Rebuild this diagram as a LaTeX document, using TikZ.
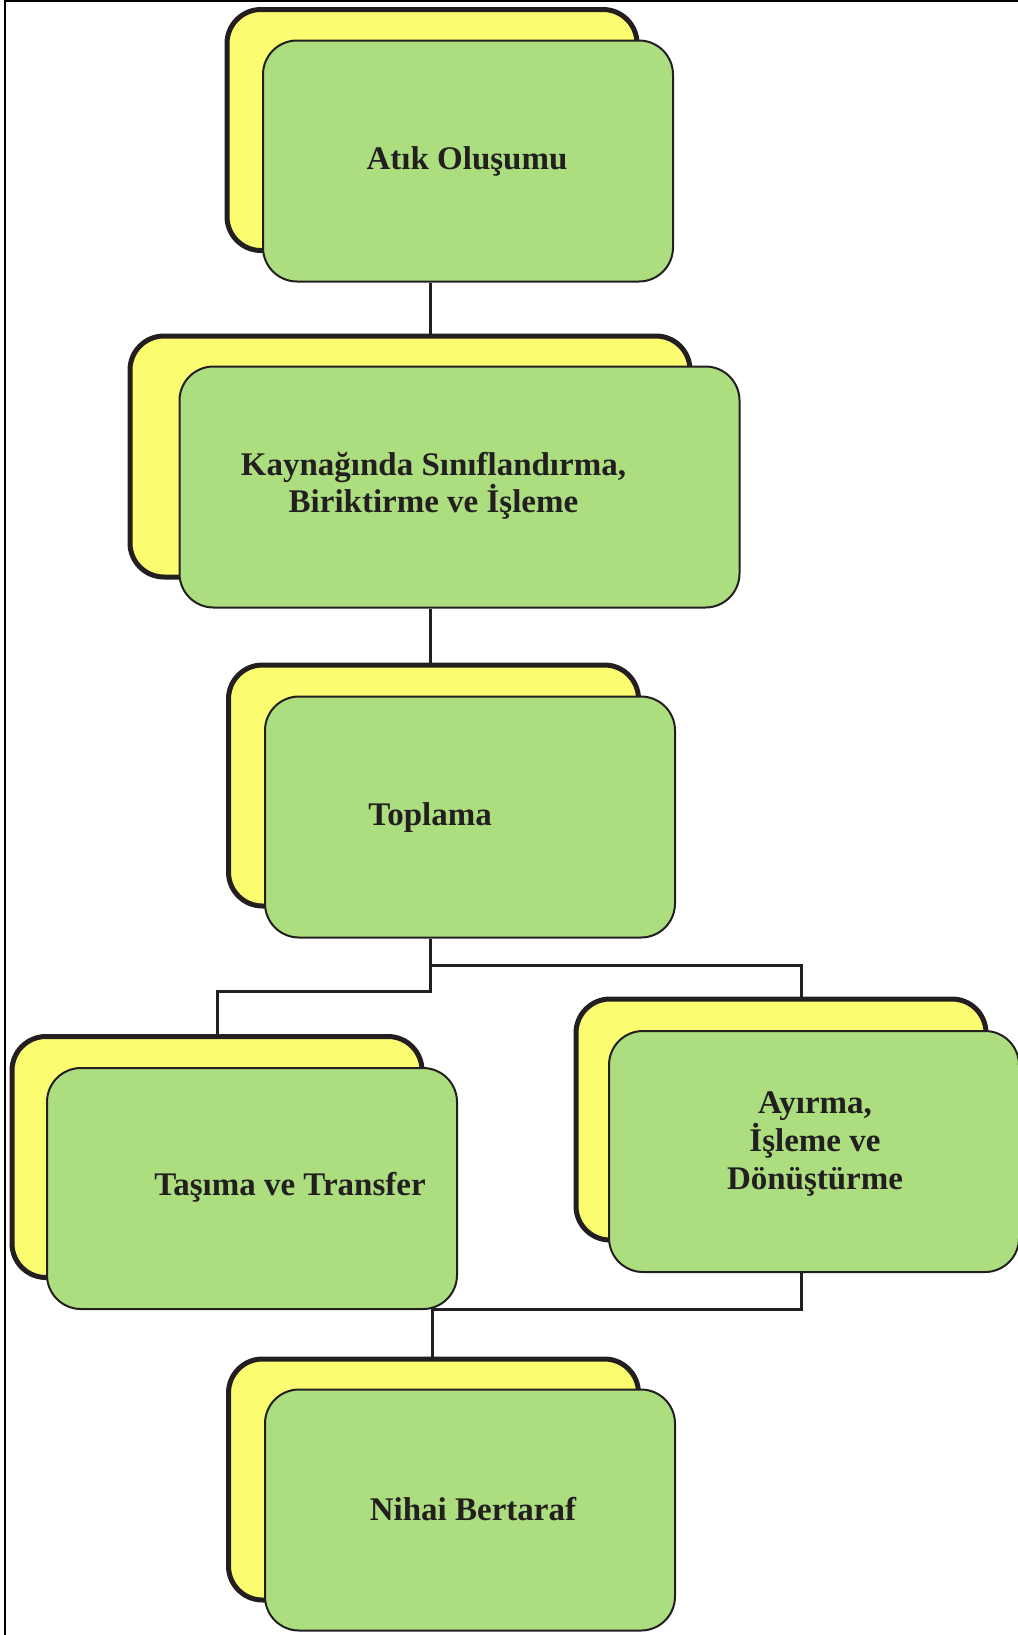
\documentclass[tikz,border=0pt]{standalone}
\usepackage{fontspec}
\setmainfont{Liberation Serif}
\usetikzlibrary{positioning}

\definecolor{ink}{RGB}{35,31,32}
\definecolor{backyellow}{RGB}{252,252,112}
\definecolor{frontgreen}{RGB}{172,222,128}

\begin{document}
\begin{tikzpicture}[x=0.5pt, y=-0.5pt, font=\fontsize{16.5}{18.5}\selectfont\bfseries]
  \tikzset{
    back/.style={
      rectangle,
      rounded corners=17pt,
      draw=ink,
      line width=2.5pt,
      fill=backyellow,
      minimum width=205pt,
      minimum height=120.5pt},
    front/.style={
      rectangle,
      rounded corners=17pt,
      draw=ink,
      line width=1pt,
      fill=frontgreen,
      minimum width=205pt,
      minimum height=120.5pt},
    caption/.style={
      text=ink,
      align=center},
    link/.style={
      draw=ink,
      line width=1.5pt}}

  \useasboundingbox (0,0) rectangle (1018,1635);
  \draw[black, line width=1.3pt] (1018,1) -- (5,1) -- (5,1635);

  \node[back] (back1) at (432,130) {};
  \node[front] (box1) at ([shift={(36,31)}]back1.center) {};
  \node[caption] (txt1) at ([shift={(-1,0)}]box1.center) {Atık Oluşumu};

  \node[back, minimum width=280pt] (back2) at (410,456.5) {};
  \node[front, minimum width=280pt] (box2) at ([shift={(49.5,30.5)}]back2.center) {};
  \node[caption] (txt2) at ([shift={(-26,-1)}]box2.center) {Kaynağında Sınıflandırma,\\Biriktirme ve İşleme};

  \node[back] (back3) at (433.5,785.5) {};
  \node[front] (box3) at ([shift={(36.5,31.5)}]back3.center) {};
  \node[caption] (txt3) at ([shift={(-40,0.5)}]box3.center) {Toplama};

  \node[back] (back4) at (217,1157) {};
  \node[front] (box4) at ([shift={(35,31.5)}]back4.center) {};
  \node[caption] (txt4) at ([shift={(38,-1.5)}]box4.center) {Taşıma ve Transfer};

  \node[back] (back5) at (781,1119.5) {};
  \node[front] (box5) at ([shift={(33,32)}]back5.center) {};
  \node[caption, font=\fontsize{16.5}{19}\selectfont\bfseries] (txt5) at ([shift={(1,-8)}]box5.center) {Ayırma,\\İşleme ve\\Dönüştürme};

  \node[back] (back6) at (433.5,1479.5) {};
  \node[front] (box6) at ([shift={(36.5,30.5)}]back6.center) {};
  \node[caption] (txt6) at ([shift={(3,-1)}]box6.center) {Nihai Bertaraf};

  % junctions of the connector tree
  \coordinate (spine) at (430,0);
  \coordinate (split) at (430,991);
  \coordinate (fork) at (430,965);
  \coordinate (rail) at (801,0);
  \coordinate (merge) at (432,1309);

  \draw[link] (spine |- box1.south) -- (spine |- back2.north);
  \draw[link] (spine |- box2.south) -- (spine |- back3.north);
  \draw[link] (spine |- box3.south) -- (split) -| (back4.north);
  \draw[link] (fork) -| (rail |- back5.north);
  \draw[link] (rail |- box5.south) |- (merge) -- (merge |- back6.north);

\end{tikzpicture}
\end{document}
